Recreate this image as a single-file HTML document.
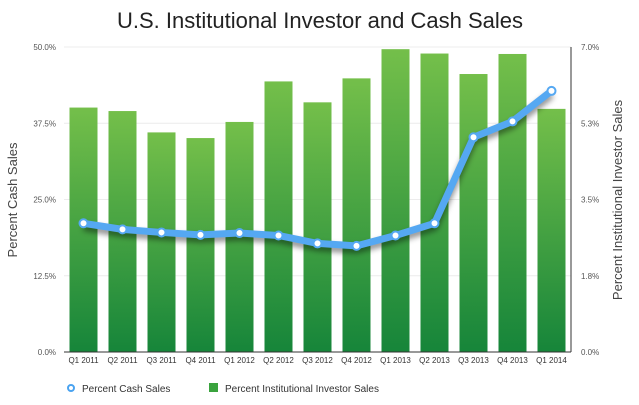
<!DOCTYPE html>
<html><head><meta charset="utf-8"><style>
html,body{margin:0;padding:0;background:#fff;}
svg{display:block;font-family:"Liberation Sans",sans-serif;}
</style></head><body>
<svg id="chart" width="639" height="405" viewBox="0 0 639 405">
<defs>
<linearGradient id="bg" x1="0" y1="0" x2="0" y2="1">
<stop offset="0" stop-color="#74bf4a"/><stop offset="1" stop-color="#16853a"/>
</linearGradient>
<filter id="sh" x="-10%" y="-50%" width="120%" height="200%"><feGaussianBlur stdDeviation="3"/></filter>
</defs>
<text x="320" y="28" text-anchor="middle" font-size="22" fill="#222">U.S. Institutional Investor and Cash Sales</text>
<g id="grid"></g><g id="bars"></g><g id="line"></g><g id="axes"></g>
<text transform="translate(17,200) rotate(-90)" text-anchor="middle" font-size="13" fill="#444">Percent Cash Sales</text>
<text transform="translate(622,200) rotate(-90)" text-anchor="middle" font-size="13" fill="#444">Percent Institutional Investor Sales</text>
<g>
<circle cx="71" cy="388" r="3" fill="#fff" stroke="#4aa3f0" stroke-width="2"/>
<text x="82" y="392" font-size="10" fill="#333">Percent Cash Sales</text></g>
<g>
<rect x="209" y="383" width="9" height="9" fill="#3aa33e"/>
<text x="225" y="392" font-size="10" fill="#333">Percent Institutional Investor Sales</text></g>
</svg>
<script>
const categories=["Q1 2011","Q2 2011","Q3 2011","Q4 2011","Q1 2012","Q2 2012","Q3 2012","Q4 2012","Q1 2013","Q2 2013","Q3 2013","Q4 2013","Q1 2014"];
const institutionalSales=[5.61,5.53,5.04,4.91,5.28,6.21,5.73,6.28,6.95,6.85,6.38,6.84,5.58];
const cashSales=[21.1,20.1,19.6,19.2,19.5,19.1,17.8,17.4,19.1,21.1,35.2,37.8,42.8];
const leftTicks=["0.0%","12.5%","25.0%","37.5%","50.0%"];
const rightTicks=["0.0%","1.8%","3.5%","5.3%","7.0%"];
const NS="http://www.w3.org/2000/svg";
const X0=64,X1=571,Y0=352,Y1=47;
const step=(X1-X0)/categories.length;
const xc=i=>X0+step*(i+0.5);
const yL=v=>Y0-(v/50)*(Y0-Y1);
const yR=v=>Y0-(v/7)*(Y0-Y1);
function mk(t,a,p){const e=document.createElementNS(NS,t);for(const k in a)e.setAttribute(k,a[k]);p.appendChild(e);return e;}
const grid=document.getElementById('grid'),bars=document.getElementById('bars'),line=document.getElementById('line'),axes=document.getElementById('axes');
leftTicks.forEach((t,i)=>{const y=Y0-i*(Y0-Y1)/4;
 if(i>0){const g=mk('line',{x1:X0,x2:X1,y1:y,y2:y,stroke:'#ececec'},grid);
 
 }
 const l=mk('text',{x:56,y:y+3,'text-anchor':'end','font-size':8,fill:'#555'},axes);l.textContent=t;
 
 
 const r=mk('text',{x:581,y:y+3,'font-size':8,fill:'#555'},axes);r.textContent=rightTicks[i];
 
 });
const bw=28;
institutionalSales.forEach((v,i)=>{const b=mk('rect',{x:xc(i)-bw/2,y:yR(v),width:bw,height:Y0-yR(v),fill:'url(#bg)'},bars);
 
 
 const t=mk('text',{x:xc(i),y:363,'text-anchor':'middle','font-size':8,fill:'#333'},axes);t.textContent=categories[i];
 
 });
const a1=mk('line',{x1:X0,x2:X1,y1:Y0,y2:Y0,stroke:'#333','stroke-width':1},axes);


const a2=mk('line',{x1:X1,x2:X1,y1:Y1,y2:Y0,stroke:'#333','stroke-width':1},axes);


const pts=cashSales.map((v,i)=>xc(i)+','+yL(v)).join(' ');
const sh=mk('polyline',{points:cashSales.map((v,i)=>xc(i)+','+(yL(v)+4)).join(' '),fill:'none',stroke:'rgba(0,0,0,0.45)','stroke-width':7,filter:'url(#sh)'},line);


const pl=mk('polyline',{points:pts,fill:'none',stroke:'#55a8f2','stroke-width':7,'stroke-linejoin':'round'},line);


cashSales.forEach((v,i)=>{const c=mk('circle',{cx:xc(i),cy:yL(v),r:4,fill:'#fff',stroke:'#55a8f2','stroke-width':2},line);
 
 });
</script>
</body></html>
